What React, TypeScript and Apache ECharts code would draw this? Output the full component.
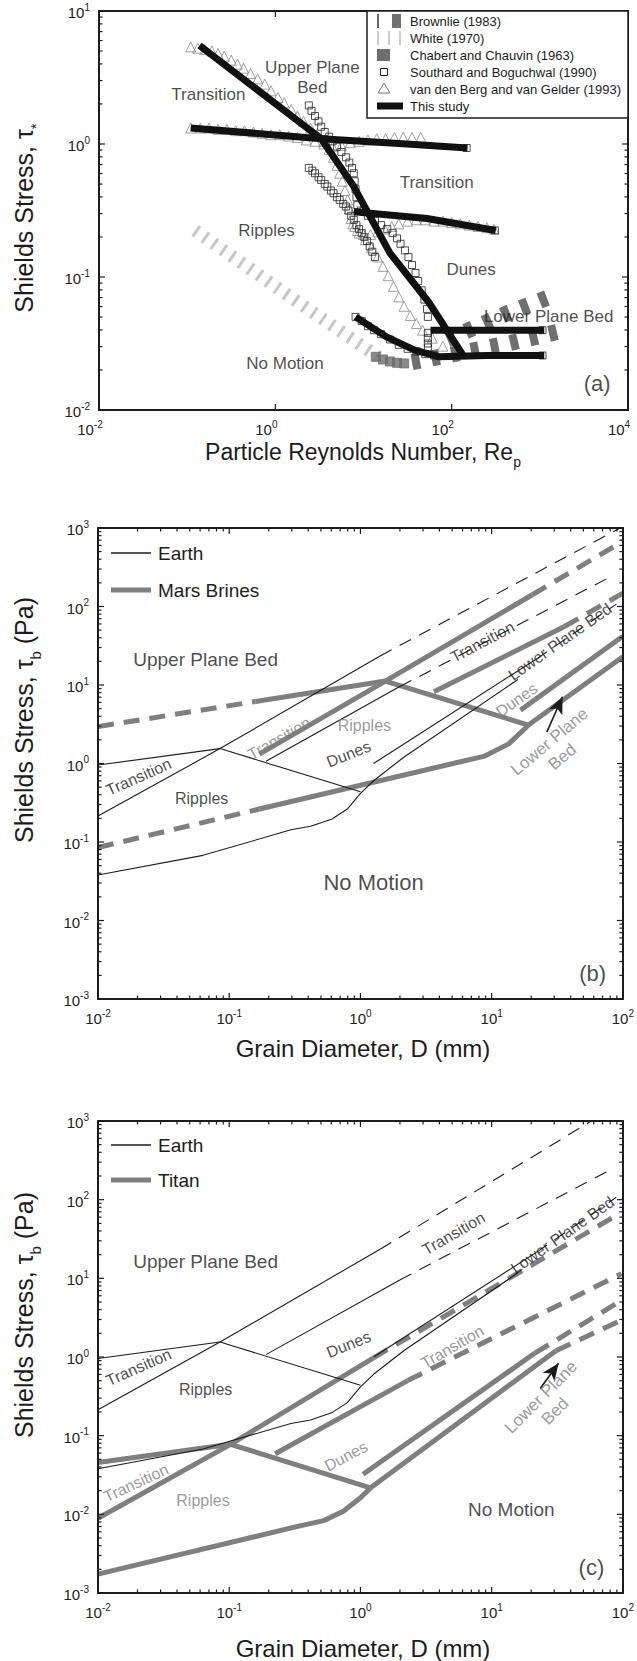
import React, { useEffect, useRef } from "react";
import * as echarts from "echarts";

const FONT = '"Liberation Sans", Arial, Helvetica, sans-serif';
const INK = "#1c1c1c";
const GREY = "#7f7f7f";

// ===== Panel (a): points are [log10 Re_p, log10 Shields stress] =====
const aThisStudy1 = [[-0.86, 0.74], [0.52, 0.04], [0.89, -0.32], [1.3, -0.82], [1.74, -1.19], [2.13, -1.59]];
const aThisStudy2 = [[-0.96, 0.12], [0.52, 0.04], [1.49, 0.0], [2.18, -0.03]];
const aThisStudy3 = [[0.89, -0.51], [1.72, -0.56], [2.5, -0.65]];
const aThisStudy4 = [[0.91, -1.3], [1.26, -1.45], [1.58, -1.55], [1.86, -1.6], [2.4, -1.59], [3.05, -1.59]];
const aThisStudy5 = [[1.76, -1.4], [3.05, -1.4]];
const aVdbUpper = [[-0.96, 0.73], [-0.88, 0.72], [-0.8, 0.71], [-0.72, 0.7], [-0.65, 0.68], [-0.58, 0.66], [-0.5, 0.63], [-0.43, 0.6], [-0.36, 0.57], [-0.28, 0.53], [-0.2, 0.49], [-0.12, 0.45], [-0.05, 0.4], [0.03, 0.35], [0.1, 0.31], [0.18, 0.26], [0.25, 0.21], [0.32, 0.17], [0.4, 0.12], [0.47, 0.07], [0.55, 0.02], [0.61, -0.04], [0.66, -0.1], [0.7, -0.16], [0.73, -0.22], [0.76, -0.28], [0.79, -0.35], [0.82, -0.42], [0.84, -0.49], [0.86, -0.56], [0.9, -0.62], [0.95, -0.67], [1.02, -0.72], [1.09, -0.78], [1.16, -0.85], [1.22, -0.92], [1.28, -0.99], [1.34, -1.07], [1.4, -1.15], [1.46, -1.22], [1.53, -1.29], [1.6, -1.35], [1.67, -1.4], [1.78, -1.46], [1.9, -1.52]];
const aVdbFlat = [[-0.96, 0.12], [-0.85, 0.12], [-0.75, 0.12], [-0.65, 0.11], [-0.55, 0.11], [-0.45, 0.1], [-0.35, 0.1], [-0.25, 0.09], [-0.15, 0.08], [-0.05, 0.07], [0.05, 0.07], [0.15, 0.06], [0.25, 0.05], [0.35, 0.03], [0.45, 0.02], [0.55, 0.0], [0.65, -0.02], [0.75, -0.01], [0.85, 0.01], [0.95, 0.02], [1.05, 0.03], [1.15, 0.04], [1.25, 0.04], [1.35, 0.05], [1.45, 0.05], [1.55, 0.05], [1.65, 0.05]];
const aVdbLower = [[0.88, -0.6], [0.93, -0.65], [1.0, -0.68], [1.08, -0.68], [1.16, -0.66], [1.24, -0.64], [1.32, -0.62], [1.4, -0.6], [1.5, -0.58], [1.6, -0.57], [1.7, -0.57], [1.8, -0.58], [1.9, -0.58], [2.0, -0.59], [2.1, -0.6], [2.2, -0.61], [2.3, -0.62], [2.4, -0.63], [2.48, -0.64]];
const aSouthard1 = [[0.38, 0.29], [0.41, 0.25], [0.45, 0.21], [0.49, 0.17], [0.52, 0.13], [0.56, 0.09], [0.61, 0.055], [0.65, 0.02], [0.7, -0.02], [0.75, -0.06], [0.8, -0.1], [0.84, -0.14], [0.87, -0.18], [0.89, -0.22], [0.9, -0.28], [0.91, -0.34], [0.92, -0.4], [0.93, -0.46], [0.97, -0.5], [1.05, -0.54], [1.13, -0.58], [1.2, -0.61], [1.27, -0.64], [1.33, -0.67], [1.38, -0.71], [1.42, -0.75], [1.47, -0.8], [1.51, -0.85], [1.55, -0.91], [1.59, -0.97], [1.62, -1.03], [1.66, -1.1], [1.69, -1.17], [1.72, -1.24], [1.73, -1.3]];
const aSouthard2 = [[0.38, -0.18], [0.42, -0.2], [0.45, -0.22], [0.49, -0.25], [0.52, -0.27], [0.56, -0.3], [0.59, -0.32], [0.63, -0.35], [0.66, -0.37], [0.7, -0.4], [0.73, -0.42], [0.77, -0.45], [0.8, -0.47], [0.83, -0.5], [0.86, -0.54], [0.89, -0.57], [0.92, -0.61], [0.95, -0.64], [0.98, -0.67], [1.01, -0.7], [1.04, -0.73], [1.07, -0.77], [1.1, -0.81], [1.13, -0.85]];
const aSouthard3 = [[0.91, -1.3], [0.98, -1.33], [1.05, -1.37], [1.12, -1.4], [1.2, -1.43], [1.3, -1.47], [1.4, -1.51], [1.5, -1.54], [1.6, -1.56], [1.7, -1.58], [1.8, -1.59], [1.73, -1.42], [1.73, -1.46], [1.73, -1.5], [1.73, -1.53], [3.03, -1.59], [3.03, -1.4], [2.17, -0.03], [2.49, -0.65]];
const aChabert = [[1.14, -1.6], [1.22, -1.62], [1.3, -1.635], [1.38, -1.645], [1.46, -1.65]];
const aWhite = [[-0.91, -0.65], [0.15, -1.14], [1.21, -1.62]];
const aBrownlieUpper = [[1.95, -1.47], [2.64, -1.27], [3.19, -1.13]];
const aBrownlieLower = [[1.55, -1.64], [1.95, -1.59], [2.64, -1.5], [3.28, -1.4]];

// ===== Panels (b), (c): points are [log10 D (mm), log10 tau_b (Pa)] =====
const earthUpperLeft = [[-2, -0.02], [-1.07, 0.19]];
const earthRipTransSolid = [[-2, -0.67], [-1.07, 0.19], [0.15, 1.37]];
const earthRipTransDashB = [[0.15, 1.37], [1.98, 3.0]];
const earthRipTransDashC = [[0.15, 1.37], [1.76, 3.0]];
const earthRipDune = [[-1.07, 0.19], [0.0, -0.36]];
const earthDuneSolid = [[-0.72, 0.03], [0.3, 0.98]];
const earthDuneDash = [[0.3, 0.98], [1.93, 2.4]];
const earthLpbSolid = [[0.1, 0.0], [1.34, 1.33]];
const earthLpbDash = [[1.34, 1.33], [1.95, 2.03]];
const earthThreshold = [[-2, -1.42], [-1.2, -1.17], [-0.53, -0.845], [-0.38, -0.8], [-0.22, -0.71], [-0.1, -0.58], [0.0, -0.38], [0.1, -0.22], [0.33, 0.08], [1.2, 1.07]];

const marsUpperDash = [[-2, 0.47], [-0.8, 0.79]];
const marsUpperSolid = [[-0.8, 0.79], [0.19, 1.05]];
const marsRipTransSolid = [[-0.77, 0.12], [0.19, 1.05], [1.31, 2.15]];
const marsRipTransDash = [[1.31, 2.15], [2.0, 2.83]];
const marsRipDune = [[0.19, 1.05], [1.28, 0.49]];
const marsDuneSolid = [[0.56, 0.915], [1.555, 1.745]];
const marsDuneDash = [[1.555, 1.745], [2.0, 2.17]];
const marsLpb = [[1.22, 0.68], [2.0, 1.62]];
const marsThresholdDash = [[-2, -1.07], [-0.77, -0.58]];
const marsThresholdSolid = [[-0.77, -0.58], [0.73, 0.01], [0.94, 0.09], [1.13, 0.25], [1.25, 0.44], [1.28, 0.49], [2.0, 1.36]];
const marsArrow = [[1.42, 0.4], [1.54, 0.85]];

const titanUpper = [[-2, -1.34], [-0.99, -1.11]];
const titanRipTransSolid = [[-2, -2.05], [-0.99, -1.11], [0.1, -0.01]];
const titanRipTransDash = [[0.1, -0.01], [1.93, 1.78]];
const titanRipDune = [[-0.99, -1.11], [0.07, -1.66]];
const titanDuneSolid = [[-0.65, -1.23], [0.36, -0.3]];
const titanDuneDash = [[0.36, -0.3], [1.99, 1.06]];
const titanLpbSolid = [[0.02, -1.49], [1.33, 0.05]];
const titanLpbDash = [[1.33, 0.05], [1.99, 0.72]];
const titanThresholdSolid = [[-2, -2.76], [-0.47, -2.15], [-0.28, -2.08], [-0.13, -1.96], [0.0, -1.79], [0.08, -1.66], [1.49, 0.08]];
const titanThresholdDash = [[1.49, 0.08], [1.99, 0.47]];
const titanArrow = [[1.37, -0.4], [1.51, -0.08]];

// region labels: text, log10 x, log10 y, rotation (deg), colour key, font size
type Lbl = [string, number, number, number, string, number];
const aLabels: Lbl[] = [
  ["Transition", -0.76, 0.37, 0, "k", 17],
  ["Upper Plane\nBed", 0.42, 0.5, 0, "k", 17],
  ["Transition", 1.83, -0.29, 0, "k", 17],
  ["Ripples", -0.1, -0.65, 0, "k", 17],
  ["Dunes", 2.22, -0.94, 0, "k", 17],
  ["Lower Plane Bed", 3.1, -1.3, 0, "k", 17],
  ["No Motion", 0.11, -1.65, 0, "k", 17],
  ["(a)", 3.65, -1.8, 0, "k", 22],
];
const bLabels: Lbl[] = [
  ["Upper Plane Bed", -1.18, 1.33, 0, "k", 19],
  ["Transition", -1.69, -0.17, 24, "k", 16],
  ["Ripples", -1.21, -0.45, 0, "k", 16],
  ["Dunes", -0.09, 0.12, 22, "k", 16],
  ["No Motion", 0.1, -1.51, 0, "k", 22],
  ["(b)", 1.77, -2.67, 0, "k", 22],
  ["Transition", 0.93, 1.55, 28, "k", 16],
  ["Lower Plane Bed", 1.52, 1.55, 35, "k", 16],
  ["Transition", -0.62, 0.32, 30, "g", 16],
  ["Ripples", 0.03, 0.48, 0, "g", 16],
  ["Dunes", 1.19, 0.81, 35, "g", 16],
  ["Lower Plane\nBed", 1.49, 0.18, 40, "g", 17],
];
const cLabels: Lbl[] = [
  ["Upper Plane Bed", -1.18, 1.22, 0, "k", 19],
  ["Transition", 0.71, 1.57, 30, "k", 16],
  ["Lower Plane Bed", 1.54, 1.55, 35, "k", 16],
  ["Dunes", -0.09, 0.16, 22, "k", 16],
  ["Transition", 0.7, 0.13, 30, "g", 16],
  ["Transition", -1.69, -0.13, 24, "k", 16],
  ["Ripples", -1.18, -0.41, 0, "k", 16],
  ["Transition", -1.71, -1.6, 25, "g", 16],
  ["Ripples", -1.2, -1.83, 0, "g", 16],
  ["Dunes", -0.11, -1.26, 28, "g", 16],
  ["Lower Plane\nBed", 1.43, -0.6, 45, "g", 17],
  ["No Motion", 1.15, -1.94, 0, "k", 19],
  ["(c)", 1.76, -2.68, 0, "k", 22],
];

const legendA = ["Brownlie (1983)", "White (1970)", "Chabert and Chauvin (1963)", "Southard and Boguchwal (1990)", "van den Berg and van Gelder (1993)", "This study"];

const toVal = (pts: number[][]) => pts.map(([a, b]) => [Math.pow(10, a), Math.pow(10, b)]);

const expLabel = (v: number) => {
  const e = Math.round(Math.log10(v));
  return `{b|10}{e|${e}}`;
};
const RICH = {
  b: { fontSize: 15, fontFamily: FONT, color: "#222", lineHeight: 18, verticalAlign: "bottom" },
  e: { fontSize: 10, fontFamily: FONT, color: "#222", lineHeight: 10, verticalAlign: "top" },
};

function axis(gi: number, e0: number, e1: number, pos: string, labels: boolean, pad: number[], filter?: (e: number) => boolean) {
  return {
    type: "log",
    logBase: 10,
    gridIndex: gi,
    min: Math.pow(10, e0),
    max: Math.pow(10, e1),
    splitNumber: e1 - e0,
    position: pos,
    axisLine: { show: true, onZero: false, lineStyle: { color: INK, width: 2 } },
    axisTick: { show: false },
    minorTick: { show: false },
    splitLine: { show: false },
    axisLabel: labels
      ? {
          show: true,
          margin: 9,
          padding: pad,
          rich: RICH,
          formatter: (v: number) => {
            const e = Math.round(Math.log10(v));
            if (filter && !filter(e)) return "";
            return expLabel(v);
          },
        }
      : { show: false },
    z: 5,
  };
}

function tickData(xr: number[], yr: number[], xStep: number, xMinor: boolean, yMinor: boolean) {
  const d: number[][] = [];
  const ymin = Math.pow(10, yr[0]), ymax = Math.pow(10, yr[1]);
  const xmin = Math.pow(10, xr[0]), xmax = Math.pow(10, xr[1]);
  for (let e = xr[0]; e <= xr[1]; e++) {
    if ((e - xr[0]) % xStep === 0) {
      d.push([Math.pow(10, e), ymin, 0, 1]);
      d.push([Math.pow(10, e), ymax, 1, 1]);
    }
    if (xMinor && e < xr[1]) for (let m = 2; m <= 9; m++) {
      d.push([m * Math.pow(10, e), ymin, 0, 0]);
      d.push([m * Math.pow(10, e), ymax, 1, 0]);
    }
  }
  for (let e = yr[0]; e <= yr[1]; e++) {
    d.push([xmin, Math.pow(10, e), 2, 1]);
    d.push([xmax, Math.pow(10, e), 3, 1]);
    if (yMinor && e < yr[1]) for (let m = 2; m <= 9; m++) {
      d.push([xmin, m * Math.pow(10, e), 2, 0]);
      d.push([xmax, m * Math.pow(10, e), 3, 0]);
    }
  }
  return d;
}

const tickSeries = (g: number, data: number[][]) => ({
  type: "custom",
  xAxisIndex: 2 * g,
  yAxisIndex: 2 * g,
  silent: true,
  clip: false,
  z: 6,
  data,
  encode: { x: 0, y: 1 },
  renderItem: (_p: any, api: any) => {
    const p = api.coord([api.value(0), api.value(1)]);
    const side = api.value(2);
    const L = api.value(3) ? 6 : 3.5;
    let x2 = p[0], y2 = p[1];
    if (side === 0) y2 -= L;
    else if (side === 1) y2 += L;
    else if (side === 2) x2 += L;
    else x2 -= L;
    return { type: "line", shape: { x1: p[0], y1: p[1], x2, y2 }, style: { stroke: INK, lineWidth: 1.2 } };
  },
});

const mkLine = (g: number, pts: number[][], color: string, width: number, dash: number[] | null, z = 3) => ({
  type: "line",
  xAxisIndex: 2 * g,
  yAxisIndex: 2 * g,
  data: toVal(pts),
  symbol: "none",
  showSymbol: false,
  silent: true,
  z,
  lineStyle: { color, width, type: dash || "solid", cap: "butt", join: "round" },
});

const mkMarks = (g: number, pts: number[][], symbol: string, size: number, color: string, fill = "rgba(255,255,255,0)", z = 2) => ({
  type: "scatter",
  xAxisIndex: 2 * g,
  yAxisIndex: 2 * g,
  data: toVal(pts),
  symbol,
  symbolSize: size,
  silent: true,
  z,
  itemStyle: { color: fill, borderColor: color, borderWidth: 1 },
});

const mkArrow = (g: number, pts: number[][]) => {
  const v = toVal(pts);
  return {
    type: "line",
    xAxisIndex: 2 * g,
    yAxisIndex: 2 * g,
    data: [],
    silent: true,
    z: 10,
    markLine: {
      silent: true,
      animation: false,
      symbol: ["none", "arrow"],
      symbolSize: [11, 17],
      label: { show: false },
      lineStyle: { color: INK, width: 1.6, type: "solid" },
      data: [[{ coord: v[0] }, { coord: v[1] }]],
    },
  };
};

const mkLabels = (g: number, labels: Lbl[]) => ({
  type: "scatter",
  xAxisIndex: 2 * g,
  yAxisIndex: 2 * g,
  symbolSize: 1,
  silent: true,
  z: 20,
  itemStyle: { color: "rgba(0,0,0,0)" },
  data: labels.map(([t, x, y, r, c, s]) => ({
    value: [Math.pow(10, x), Math.pow(10, y)],
    label: {
      show: true,
      position: "inside",
      formatter: t,
      rotate: r,
      color: c === "g" ? GREY : INK,
      fontSize: s,
      fontFamily: FONT,
      lineHeight: Math.round(s * 1.15),
      align: "center",
      verticalAlign: "middle",
    },
  })),
});

const titleRich = (size: number) => ({
  n: { fontSize: size, fontFamily: FONT, fill: INK, color: INK, lineHeight: size + 4, verticalAlign: "top" },
  s: { fontSize: Math.round(size * 0.6), fontFamily: FONT, fill: INK, color: INK, lineHeight: Math.round(size * 0.6), verticalAlign: "top", padding: [Math.round(size * 0.62), 0, 0, 0] },
});
const title = (text: string, x: number, y: number, rot: number, size: number) => ({
  type: "text",
  x,
  y,
  rotation: rot,
  z: 30,
  style: { text, rich: titleRich(size), fill: INK, fontSize: size, fontFamily: FONT, textAlign: "center", textVerticalAlign: "middle" },
});

const txt = (text: string, x: number, y: number, size: number) => ({
  type: "text",
  x,
  y,
  z: 41,
  style: { text, fill: INK, fontSize: size, fontFamily: FONT, textAlign: "left", textVerticalAlign: "middle" },
});

function legendAGraphic() {
  const rows = [21, 38, 55, 72, 89, 106];
  const els: any[] = [
    { type: "rect", z: 40, shape: { x: 367, y: 11, width: 261, height: 107 }, style: { fill: "#fff", stroke: INK, lineWidth: 1.5 } },
    { type: "line", z: 41, shape: { x1: 378, y1: rows[0] - 7, x2: 378, y2: rows[0] + 7 }, style: { stroke: "#333", lineWidth: 1.5 } },
    { type: "rect", z: 41, shape: { x: 392, y: rows[0] - 7, width: 9, height: 14 }, style: { fill: "#707070" } },
    { type: "line", z: 41, shape: { x1: 378, y1: rows[1] - 7, x2: 378, y2: rows[1] + 7 }, style: { stroke: "#bdbdbd", lineWidth: 1.5 } },
    { type: "line", z: 41, shape: { x1: 389, y1: rows[1] - 7, x2: 389, y2: rows[1] + 7 }, style: { stroke: "#bdbdbd", lineWidth: 1.5 } },
    { type: "line", z: 41, shape: { x1: 400, y1: rows[1] - 7, x2: 400, y2: rows[1] + 7 }, style: { stroke: "#bdbdbd", lineWidth: 1.5 } },
    { type: "rect", z: 41, shape: { x: 377, y: rows[2] - 6, width: 13, height: 12 }, style: { fill: "#6d6d6d" } },
    { type: "rect", z: 41, shape: { x: 380.5, y: rows[3] - 3.5, width: 7, height: 7 }, style: { fill: "none", stroke: INK, lineWidth: 1 } },
    { type: "polygon", z: 41, shape: { points: [[384, rows[4] - 6], [378, rows[4] + 4], [390, rows[4] + 4]] }, style: { fill: "none", stroke: "#777", lineWidth: 1 } },
    { type: "rect", z: 41, shape: { x: 377, y: rows[5] - 3.5, width: 26, height: 7 }, style: { fill: "#111" } },
  ];
  legendA.forEach((t, i) => els.push(txt(t, 410, rows[i], 13)));
  return els;
}

function planetLegend(y1: number, y2: number, name: string) {
  return [
    { type: "line", z: 41, shape: { x1: 111, y1, x2: 151, y2: y1 }, style: { stroke: INK, lineWidth: 1.5 } },
    { type: "line", z: 41, shape: { x1: 111, y1: y2, x2: 151, y2 }, style: { stroke: GREY, lineWidth: 5 } },
    txt("Earth", 158, y1, 19),
    txt(name, 158, y2, 19),
  ];
}

export default function App() {
  const ref = useRef<HTMLDivElement>(null);
  useEffect(() => {
    if (!ref.current) return;
    const chart = echarts.init(ref.current, null, { renderer: "svg" });
    const D = [13, 9];
    const GD = [16, 10];
    const earth = (g: number, ripTransDash: number[][]) => [
      mkLine(g, earthUpperLeft, INK, 1.1, null, 4),
      mkLine(g, earthRipTransSolid, INK, 1.1, null, 4),
      mkLine(g, ripTransDash, INK, 1.1, D, 4),
      mkLine(g, earthRipDune, INK, 1.1, null, 4),
      mkLine(g, earthDuneSolid, INK, 1.1, null, 4),
      mkLine(g, earthDuneDash, INK, 1.1, D, 4),
      mkLine(g, earthLpbSolid, INK, 1.1, null, 4),
      mkLine(g, earthLpbDash, INK, 1.1, D, 4),
      mkLine(g, earthThreshold, INK, 1.1, null, 4),
    ];
    const series: any[] = [
      tickSeries(0, tickData([-2, 4], [-2, 1], 2, false, true)),
      tickSeries(1, tickData([-2, 2], [-3, 3], 1, true, true)),
      tickSeries(2, tickData([-2, 2], [-3, 3], 1, true, true)),
      // panel a
      mkLine(0, aWhite, "#c6c6c6", 13, [3, 8], 1),
      mkLine(0, aBrownlieUpper, "#6f6f6f", 16, [8, 12], 1),
      mkLine(0, aBrownlieLower, "#6f6f6f", 16, [8, 12], 1),
      mkMarks(0, aChabert, "rect", 9, "#6d6d6d", "#6d6d6d", 1),
      mkMarks(0, aVdbUpper, "triangle", 10, "#8a8a8a"),
      mkMarks(0, aVdbFlat, "triangle", 10, "#8a8a8a"),
      mkMarks(0, aVdbLower, "triangle", 10, "#8a8a8a"),
      mkMarks(0, aSouthard1, "rect", 7, "#222"),
      mkMarks(0, aSouthard2, "rect", 7, "#222"),
      mkMarks(0, aSouthard3, "rect", 7, "#222"),
      mkLine(0, aThisStudy1, "#111", 7, null, 5),
      mkLine(0, aThisStudy2, "#111", 7, null, 5),
      mkLine(0, aThisStudy3, "#111", 7, null, 5),
      mkLine(0, aThisStudy4, "#111", 7, null, 5),
      mkLine(0, aThisStudy5, "#111", 7, null, 5),
      mkLabels(0, aLabels),
      // panel b
      ...earth(1, earthRipTransDashB),
      mkLine(1, marsUpperDash, GREY, 5, GD),
      mkLine(1, marsUpperSolid, GREY, 5, null),
      mkLine(1, marsRipTransSolid, GREY, 5, null),
      mkLine(1, marsRipTransDash, GREY, 5, GD),
      mkLine(1, marsRipDune, GREY, 5, null),
      mkLine(1, marsDuneSolid, GREY, 5, null),
      mkLine(1, marsDuneDash, GREY, 5, GD),
      mkLine(1, marsLpb, GREY, 5, null),
      mkLine(1, marsThresholdDash, GREY, 5, GD),
      mkLine(1, marsThresholdSolid, GREY, 5, null),
      mkArrow(1, marsArrow),
      mkLabels(1, bLabels),
      // panel c
      ...earth(2, earthRipTransDashC),
      mkLine(2, titanUpper, GREY, 5, null),
      mkLine(2, titanRipTransSolid, GREY, 5, null),
      mkLine(2, titanRipTransDash, GREY, 5, GD),
      mkLine(2, titanRipDune, GREY, 5, null),
      mkLine(2, titanDuneSolid, GREY, 5, null),
      mkLine(2, titanDuneDash, GREY, 5, GD),
      mkLine(2, titanLpbSolid, GREY, 5, null),
      mkLine(2, titanLpbDash, GREY, 5, GD),
      mkLine(2, titanThresholdSolid, GREY, 5, null),
      mkLine(2, titanThresholdDash, GREY, 5, GD),
      mkArrow(2, titanArrow),
      mkLabels(2, cLabels),
    ];
    chart.setOption({
      animation: false,
      backgroundColor: "#fff",
      textStyle: { fontFamily: FONT },
      grid: [
        { left: 99, top: 11, width: 529, height: 399 },
        { left: 98, top: 528, width: 530, height: 471 },
        { left: 98, top: 1121, width: 529, height: 472 },
      ],
      xAxis: [
        axis(0, -2, 4, "bottom", true, [0, 18, 0, 0], (e) => e % 2 === 0),
        axis(0, -2, 4, "top", false, [0, 0, 0, 0]),
        axis(1, -2, 2, "bottom", true, [0, 0, 0, 0]),
        axis(1, -2, 2, "top", false, [0, 0, 0, 0]),
        axis(2, -2, 2, "bottom", true, [0, 0, 0, 0]),
        axis(2, -2, 2, "top", false, [0, 0, 0, 0]),
      ],
      yAxis: [
        axis(0, -2, 1, "left", true, [0, 0, 0, 0]),
        axis(0, -2, 1, "right", false, [0, 0, 0, 0]),
        axis(1, -3, 3, "left", true, [0, 0, 0, 0]),
        axis(1, -3, 3, "right", false, [0, 0, 0, 0]),
        axis(2, -3, 3, "left", true, [0, 0, 0, 0]),
        axis(2, -3, 3, "right", false, [0, 0, 0, 0]),
      ],
      series,
      graphic: [
        ...legendAGraphic(),
        ...planetLegend(553, 590, "Mars Brines"),
        ...planetLegend(1145, 1180, "Titan"),
        title("Particle Reynolds Number, Re{s|p}", 363, 452, 0, 23),
        title("Grain Diameter, D (mm)", 363, 1048, 0, 24),
        title("Grain Diameter, D (mm)", 363, 1648, 0, 24),
        title("Shields Stress, τ{s|*}", 24, 218, Math.PI / 2, 25),
        title("Shields Stress, τ{s|b} (Pa)", 24, 720, Math.PI / 2, 25),
        title("Shields Stress, τ{s|b} (Pa)", 24, 1315, Math.PI / 2, 25),
      ],
    });
    return () => chart.dispose();
  }, []);
  return <div ref={ref} style={{ position: "absolute", left: 0, top: 0, width: 637, height: 1661, background: "#fff" }} />;
}
